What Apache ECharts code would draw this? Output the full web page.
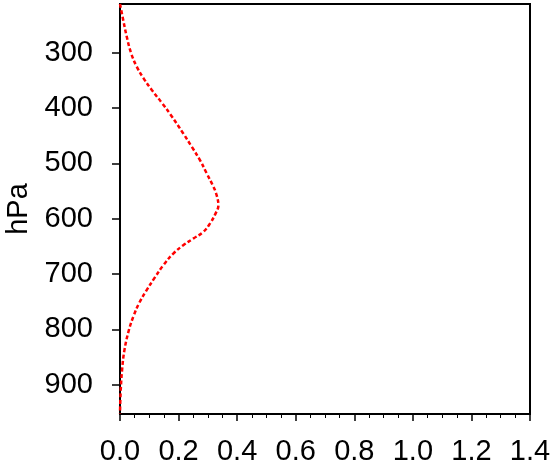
<!DOCTYPE html>
<html>
<head>
<meta charset="utf-8">
<script src="https://cdn.jsdelivr.net/npm/echarts@6/dist/echarts.min.js"></script>
<style>
  html, body { margin: 0; padding: 0; background: #fff; }
  #chart { width: 550px; height: 466px; }
</style>
</head>
<body>
<div id="chart"></div>
<script>
// profile: pressure level (hPa) and value at that level
const pressure = [212, 241, 271, 301, 325, 346, 367, 392, 413, 446, 470, 494, 518, 539, 554, 576, 590, 609, 624, 636, 648, 663, 684, 707, 730, 752, 775, 802, 838, 874, 916, 952];
const values   = [0, 0.011, 0.023, 0.038, 0.057, 0.08, 0.108, 0.145, 0.174, 0.216, 0.245, 0.273, 0.296, 0.316, 0.328, 0.336, 0.327, 0.307, 0.284, 0.25, 0.216, 0.182, 0.148, 0.118, 0.09, 0.066, 0.047, 0.03, 0.015, 0.007, 0.002, 0];
const pressureTicks = [300, 400, 500, 600, 700, 800, 900];

const font = '"Liberation Sans", Arial, sans-serif';
const chart = echarts.init(document.getElementById('chart'));

const option = {
  animation: false,
  grid: {
    left: 120, top: 4, right: 20, bottom: 52,
    outerBoundsMode: 'none',
    containLabel: false,
    show: true, borderColor: '#000', borderWidth: 2, backgroundColor: '#fff'
  },
  xAxis: {
    type: 'value',
    min: 0, max: 1.4, interval: 0.2,
    axisLine: { show: true, onZero: false, lineStyle: { color: '#000', width: 2 } },
    axisTick: { show: true, inside: false, length: 7, lineStyle: { color: '#000', width: 1.5 } },
    minorTick: { show: true, splitNumber: 4, length: 4, lineStyle: { color: '#000', width: 1 } },
    splitLine: { show: false },
    axisLabel: {
      margin: 23, color: '#000', fontSize: 29, fontFamily: font,
      formatter: v => v.toFixed(1)
    }
  },
  yAxis: {
    type: 'value',
    inverse: true,
    min: 212, max: 953,
    name: 'hPa',
    nameLocation: 'middle',
    nameGap: 86,
    nameTextStyle: { color: '#000', fontSize: 29, fontFamily: font },
    axisLine: { show: true, onZero: false, lineStyle: { color: '#000', width: 2 } },
    axisTick: { show: true, inside: false, length: 8, customValues: pressureTicks, lineStyle: { color: '#000', width: 1.5 } },
    splitLine: { show: false },
    axisLabel: {
      margin: 27, color: '#000', fontSize: 29, fontFamily: font,
      customValues: pressureTicks
    }
  },
  series: [{
    type: 'line',
    data: pressure.map((p, i) => [values[i], p]),
    smooth: 0.4,
    showSymbol: false,
    lineStyle: { color: '#ff0000', width: 2.5, type: [4, 2.5], cap: 'butt' }
  }]
};

chart.setOption(option);
</script>
</body>
</html>
